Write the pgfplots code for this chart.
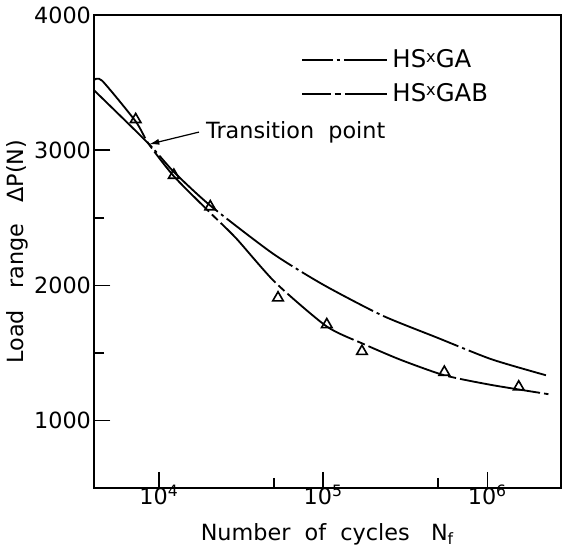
\documentclass[border=0pt]{standalone}
\usepackage{fontspec}
\setmainfont{DejaVu Sans}
\usepackage{pgfplots}
\pgfplotsset{compat=1.18}
\usetikzlibrary{arrows.meta}

% curves
\pgfplotstableread{
N        P
4020     3444
8600     3051
12300    2840
20500    2591
49000    2238
100000   2005
228000   1778
490000   1615
1060000  1453
2350000  1330
}\gacurve
\pgfplotstableread{
N        P
4020     3520
4500     3515
7200     3214
8600     3051
12300    2808
20500    2537
29400    2350
51000    2022
105000   1696
177000   1565
295000   1450
546000   1335
1060000  1263
2350000  1195
}\gabcurve
\pgfplotstableread{
N        P
7200     3228
12300    2816
20500    2583
53000    1908
105000   1710
172000   1512
546000   1358
1550000  1249
}\tests

\begin{document}
\begin{tikzpicture}[font=\fontsize{11}{13}\selectfont]
\begin{axis}[
    scale only axis,
    width=230pt, height=233pt,
    xmode=log,
    xmin=4020, xmax=2.8e6,
    ymin=500, ymax=4000,
    axis line style={line width=1.1pt},
    xtick={10000,100000,1000000},
    xticklabels={10\textsuperscript{4},10\textsuperscript{5},10\textsuperscript{6}},
    minor xtick={50000,500000},
    ytick={1000,2000,3000,4000},
    minor ytick={1500,2500},
    xtick pos=bottom, ytick pos=left,
    tick align=outside,
    major tick length=-8pt, minor tick length=-5pt,
    major tick style={line width=0.9pt, black},
    minor tick style={line width=0.9pt, black},
    /pgf/number format/1000 sep={},
    /pgf/number format/assume math mode=true,
    xticklabel style={yshift=-3pt},
    yticklabel style={xshift=-6pt},
    xlabel={Number\ \ of\ \ cycles\ \ \ N\textsubscript{f}},
    ylabel={Load\ \ \ range\ \ \ ΔP(N)},
    xlabel style={yshift=-2pt},
    ylabel style={yshift=-4pt},
    legend style={draw=none, fill=none, at={(rel axis cs:0.43,0.945)}, anchor=north west,
        row sep=2pt, font=\fontsize{12}{14}\selectfont},
    legend cell align=left,
]
\addplot[black, line width=0.9pt, smooth, tension=0.4, dash pattern=on 40pt off 2pt on 1.5pt off 2pt,
    legend image code/.code={\draw[black, line width=0.9pt, dash pattern=on 15pt off 2pt on 1.5pt off 2pt on 40pt off 0pt] (0pt,0pt) -- (42pt,0pt);}]
    table[x=N,y=P] {\gacurve};
\addlegendentry{HS\raisebox{0.4ex}{\footnotesize x}GA}
\addplot[black, line width=0.9pt, smooth, tension=0.4, dash pattern=on 40pt off 2pt on 4pt off 2pt,
    legend image code/.code={\draw[black, line width=0.9pt, dash pattern=on 14pt off 2pt on 3pt off 2pt on 40pt off 0pt] (0pt,0pt) -- (42pt,0pt);}]
    table[x=N,y=P] {\gabcurve};
\addlegendentry{HS\raisebox{0.4ex}{\footnotesize x}GAB}
\addplot[black, only marks, mark=triangle, mark size=3pt, mark options={line width=0.8pt}, forget plot] table[x=N,y=P] {\tests};
\node[anchor=west] (tp) at (axis cs:17500,3135) {Transition\ \ point};
\draw[line width=0.6pt, -{Latex[length=5pt,width=3pt]}] (tp.west) -- (axis cs:8700,3045);
\end{axis}
\end{tikzpicture}
\end{document}
